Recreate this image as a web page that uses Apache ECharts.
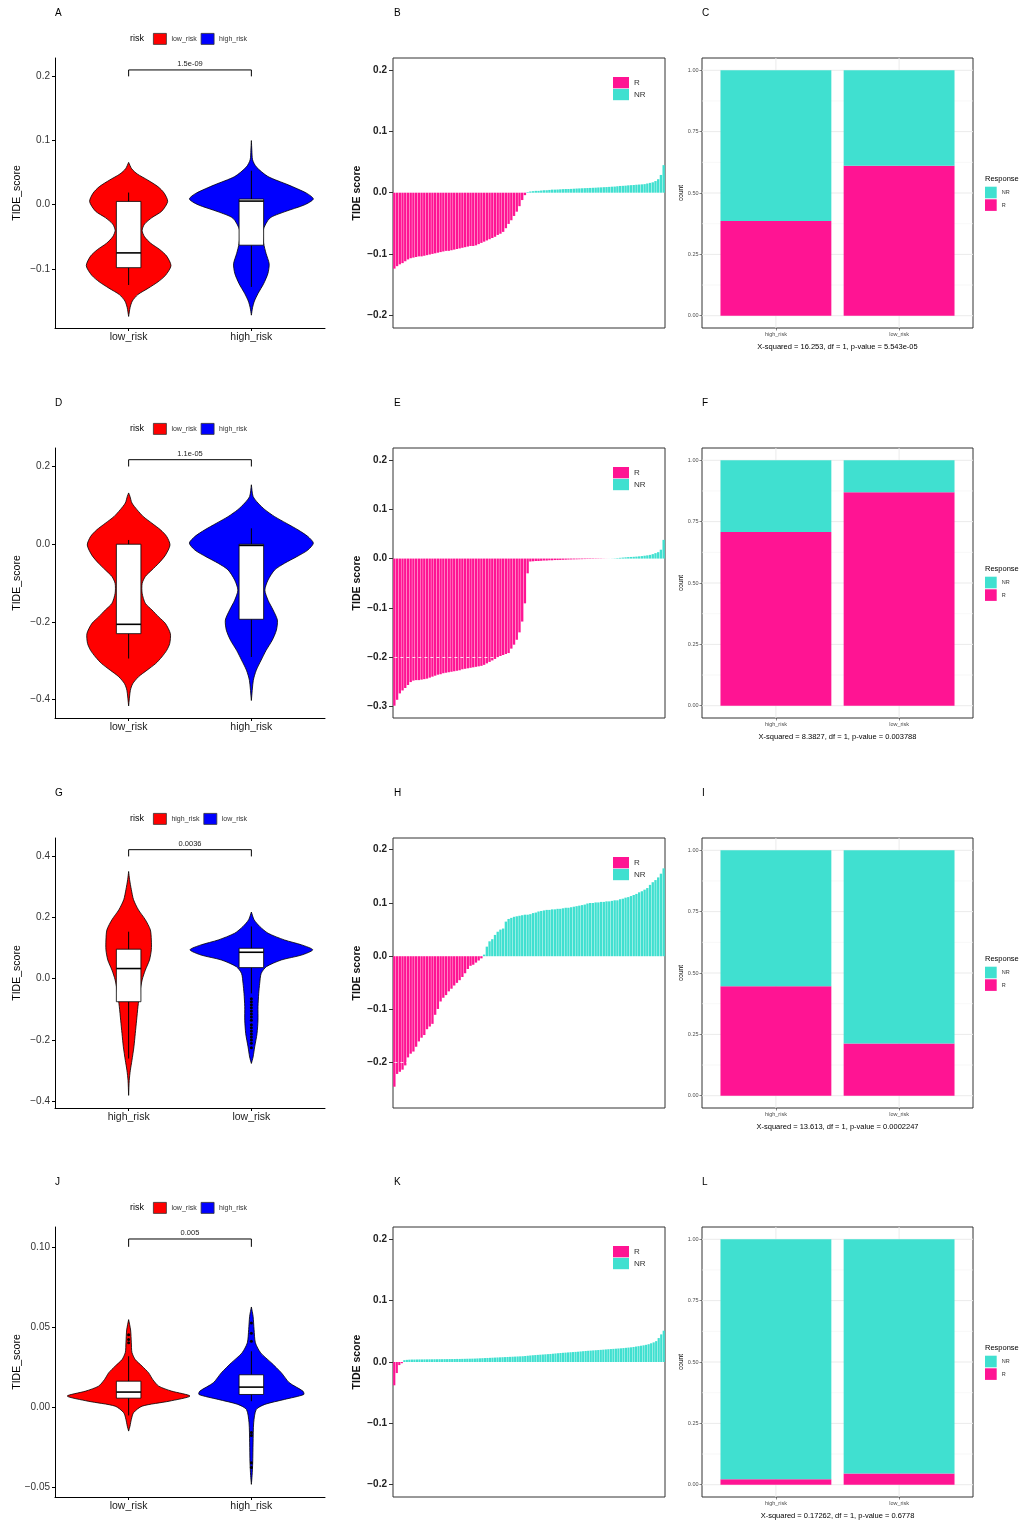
<!DOCTYPE html>
<html>
<head>
<meta charset="utf-8">
<script src="https://cdn.jsdelivr.net/npm/echarts@6/dist/echarts.min.js"></script>
<style>
  html, body { margin: 0; padding: 0; background: #fff; }
  #page { position: relative; width: 1031px; height: 1524px; overflow: hidden; background: #fff; }
  .panel { position: absolute; }
</style>
</head>
<body>
<div id="page"></div>
<script>
// ---------------- shared look ----------------
const FONT = '"Liberation Sans", Arial, Helvetica, sans-serif';
const RED = '#FF0000', BLUE = '#0000FF', PINK = '#FF1493', TURQ = '#40E0D0';
const ROW_TOP = [0, 390, 780, 1169];

// ---------------- violin panels (A, D, G, J) ----------------
// outlines: [TIDE score, half width in category units]
// boxes: [lower whisker, Q1, median, Q3, upper whisker]
const aCats = ['low_risk', 'high_risk'];
const aLowOutline = [[-0.174,0],[-0.16,0.012],[-0.15,0.03],[-0.14,0.075],[-0.13,0.16],[-0.12,0.24],[-0.11,0.30],[-0.095,0.345],[-0.08,0.31],[-0.07,0.255],[-0.06,0.18],[-0.05,0.13],[-0.04,0.11],[-0.03,0.13],[-0.02,0.19],[-0.01,0.27],[0.005,0.318],[0.018,0.29],[0.028,0.24],[0.0385,0.155],[0.048,0.07],[0.056,0.025],[0.066,0]];
const aHighOutline = [[-0.172,0],[-0.16,0.01],[-0.15,0.025],[-0.138,0.055],[-0.123,0.10],[-0.107,0.135],[-0.092,0.145],[-0.076,0.12],[-0.06,0.10],[-0.04,0.095],[-0.021,0.15],[-0.011,0.27],[0.0,0.435],[0.009,0.505],[0.018,0.45],[0.031,0.30],[0.044,0.135],[0.059,0.04],[0.07,0.01],[0.085,0.004],[0.1,0]];
const aLowBox = [-0.125, -0.098, -0.075, 0.0052, 0.019];
const aHighBox = [-0.128, -0.063, 0.0057, 0.0088, 0.053];
const aTicks = [-0.1, 0, 0.1, 0.2];
const aPValue = '1.5e-09';
const aBracket = [1, 2, 0.21, 0.2];

const dCats = ['low_risk', 'high_risk'];
const dLowOutline = [[-0.416,0],[-0.376,0.014],[-0.359,0.033],[-0.341,0.08],[-0.324,0.15],[-0.307,0.22],[-0.29,0.27],[-0.273,0.31],[-0.255,0.335],[-0.23,0.34],[-0.204,0.30],[-0.187,0.245],[-0.169,0.19],[-0.152,0.136],[-0.126,0.11],[-0.101,0.11],[-0.083,0.136],[-0.066,0.19],[-0.049,0.245],[-0.028,0.30],[-0.002,0.337],[0.02,0.31],[0.037,0.26],[0.054,0.19],[0.071,0.12],[0.089,0.068],[0.106,0.027],[0.123,0.011],[0.132,0]];
const dHighOutline = [[-0.402,0],[-0.35,0.016],[-0.324,0.04],[-0.298,0.08],[-0.273,0.12],[-0.247,0.17],[-0.221,0.204],[-0.195,0.212],[-0.169,0.177],[-0.144,0.136],[-0.118,0.11],[-0.092,0.136],[-0.066,0.19],[-0.049,0.27],[-0.032,0.37],[-0.015,0.46],[0.003,0.505],[0.02,0.46],[0.037,0.38],[0.054,0.285],[0.071,0.19],[0.089,0.11],[0.106,0.054],[0.123,0.014],[0.153,0]];
const dLowBox = [-0.294, -0.23, -0.206, 0.0, 0.011];
const dHighBox = [-0.29, -0.193, -0.003, 0.0, 0.041];
const dTicks = [-0.4, -0.2, 0, 0.2];
const dPValue = '1.1e-05';
const dBracket = [1, 2, 0.2175, 0.2];

const gCats = ['high_risk', 'low_risk'];
const gHighOutline = [[-0.38,0],[-0.331,0.005],[-0.298,0.014],[-0.266,0.027],[-0.222,0.043],[-0.179,0.054],[-0.135,0.065],[-0.091,0.076],[-0.048,0.09],[-0.004,0.11],[0.028,0.136],[0.061,0.17],[0.094,0.185],[0.126,0.185],[0.159,0.177],[0.192,0.136],[0.224,0.08],[0.257,0.04],[0.29,0.022],[0.322,0.008],[0.349,0]];
const gLowOutline = [[-0.276,0],[-0.255,0.014],[-0.222,0.027],[-0.179,0.046],[-0.135,0.054],[-0.091,0.054],[-0.048,0.06],[-0.015,0.068],[0.017,0.08],[0.039,0.122],[0.061,0.245],[0.077,0.41],[0.094,0.50],[0.110,0.41],[0.126,0.27],[0.148,0.136],[0.170,0.068],[0.192,0.022],[0.217,0]];
const gHighBox = [-0.26, -0.075, 0.033, 0.096, 0.153];
const gLowBox = [-0.048, 0.036, 0.086, 0.099, 0.17];
const gLowOutliers = [-0.065,-0.075,-0.085,-0.095,-0.105,-0.115,-0.125,-0.135,-0.15,-0.16,-0.17,-0.18,-0.19,-0.2,-0.21,-0.225];
const gTicks = [-0.4, -0.2, 0, 0.2, 0.4];
const gPValue = '0.0036';
const gBracket = [1, 2, 0.42, 0.398];

const jCats = ['low_risk', 'high_risk'];
const jLowOutline = [[-0.0152,0],[-0.0121,0.011],[-0.0079,0.022],[-0.0037,0.04],[0.0004,0.11],[0.0035,0.33],[0.0067,0.50],[0.0098,0.35],[0.0129,0.245],[0.0171,0.196],[0.0212,0.163],[0.0254,0.11],[0.0295,0.054],[0.034,0.027],[0.040,0.022],[0.048,0.016],[0.0545,0]];
const jHighOutline = [[-0.0485,0],[-0.043,0.006],[-0.035,0.011],[-0.0225,0.014],[-0.010,0.019],[-0.0017,0.04],[0.0015,0.11],[0.0046,0.27],[0.0077,0.427],[0.0098,0.42],[0.015,0.31],[0.0212,0.245],[0.0275,0.163],[0.0337,0.076],[0.040,0.033],[0.0483,0.022],[0.0566,0.014],[0.0624,0]];
const jLowBox = [-0.0054, 0.0054, 0.0092, 0.016, 0.0316];
const jHighBox = [0.0035, 0.0077, 0.0123, 0.020, 0.0347];
const jLowOutliers = [0.045, 0.042, 0.040];
const jHighOutliers = [0.0524, 0.046, 0.041, -0.016, -0.018, -0.035, -0.038];
const jTicks = [-0.05, 0, 0.05, 0.1];
const jPValue = '0.005';
const jBracket = [1, 2, 0.1049, 0.1];

// ---------------- waterfall panels (B, E, H, K), sorted TIDE scores ----------------
const bR = [-0.124,-0.120,-0.117,-0.115,-0.112,-0.109,-0.107,-0.106,-0.105,-0.104,-0.104,-0.103,-0.102,-0.101,-0.100,-0.099,-0.098,-0.097,-0.096,-0.095,-0.095,-0.094,-0.093,-0.092,-0.091,-0.090,-0.089,-0.088,-0.087,-0.087,-0.086,-0.084,-0.082,-0.080,-0.078,-0.076,-0.074,-0.072,-0.069,-0.067,-0.064,-0.058,-0.051,-0.045,-0.038,-0.031,-0.022,-0.012,-0.004];
const bNR = [0.001,0.002,0.0025,0.003,0.003,0.0035,0.004,0.004,0.0045,0.005,0.005,0.0052,0.0055,0.0058,0.006,0.006,0.0062,0.0065,0.0068,0.007,0.0072,0.0074,0.0076,0.0078,0.008,0.0082,0.0085,0.0087,0.009,0.0092,0.0095,0.0098,0.010,0.0105,0.011,0.0112,0.0115,0.012,0.0123,0.0126,0.013,0.0133,0.0136,0.014,0.015,0.016,0.017,0.019,0.022,0.029,0.045];

const eR = [-0.299,-0.287,-0.274,-0.268,-0.263,-0.257,-0.251,-0.248,-0.247,-0.247,-0.246,-0.245,-0.244,-0.242,-0.240,-0.238,-0.236,-0.235,-0.233,-0.232,-0.231,-0.230,-0.229,-0.228,-0.227,-0.225,-0.224,-0.223,-0.222,-0.221,-0.220,-0.219,-0.218,-0.216,-0.213,-0.210,-0.207,-0.204,-0.201,-0.198,-0.196,-0.194,-0.192,-0.183,-0.175,-0.165,-0.150,-0.128,-0.091,-0.030,-0.006,-0.0055,-0.005,-0.005,-0.0045,-0.004,-0.004,-0.0035,-0.0035,-0.003,-0.003,-0.0028,-0.0025,-0.0023,-0.002,-0.0018,-0.0016,-0.0015,-0.0013,-0.0012,-0.001,-0.0009,-0.0008,-0.0007,-0.0006,-0.0005,-0.0004,-0.0002,-0.0001];
const eNR = [0.0001,0.0002,0.0005,0.001,0.0015,0.002,0.0025,0.003,0.0033,0.0036,0.004,0.0045,0.005,0.0058,0.0065,0.0075,0.009,0.011,0.013,0.018,0.038];

const hR = [-0.245,-0.221,-0.217,-0.213,-0.205,-0.190,-0.183,-0.179,-0.170,-0.160,-0.153,-0.148,-0.137,-0.132,-0.127,-0.110,-0.099,-0.085,-0.078,-0.073,-0.066,-0.061,-0.055,-0.050,-0.045,-0.039,-0.032,-0.024,-0.018,-0.016,-0.012,-0.008,-0.004];
const hNR = [0.003,0.018,0.028,0.032,0.040,0.046,0.050,0.052,0.065,0.070,0.072,0.074,0.075,0.076,0.077,0.078,0.078,0.079,0.081,0.082,0.084,0.085,0.086,0.087,0.087,0.088,0.088,0.089,0.089,0.090,0.091,0.091,0.092,0.093,0.094,0.095,0.096,0.097,0.099,0.100,0.100,0.101,0.101,0.102,0.102,0.103,0.103,0.104,0.105,0.105,0.107,0.108,0.110,0.111,0.113,0.115,0.117,0.120,0.122,0.125,0.128,0.134,0.139,0.143,0.148,0.155,0.165];

const kR = [-0.038,-0.018,-0.005,-0.002];
const kNR = [0.0030,0.0035,0.0038,0.0040,0.0040,0.0041,0.0042,0.0042,0.0043,0.0043,0.0044,0.0044,0.0045,0.0045,0.0046,0.0046,0.0047,0.0047,0.0048,0.0048,0.0049,0.0050,0.0050,0.0051,0.0052,0.0053,0.0054,0.0055,0.0056,0.0058,
  0.0060,0.0062,0.0064,0.0066,0.0068,0.0070,0.0072,0.0074,0.0076,0.0078,0.0080,0.0082,0.0084,0.0086,0.0088,0.0090,0.0092,0.0094,
  0.0098,0.0102,0.0106,0.0110,0.0113,0.0116,0.0119,0.0122,0.0125,0.0128,0.0131,
  0.0135,0.0139,0.0143,0.0147,0.0150,0.0153,0.0156,0.0159,0.0162,0.0165,0.0168,0.0172,
  0.0176,0.0180,0.0183,0.0186,0.0189,0.0192,0.0195,0.0198,0.0201,
  0.0205,0.0208,0.0211,0.0214,0.0217,0.0220,0.0223,
  0.0227,0.0231,0.0235,0.0239,0.0245,0.0252,0.0258,0.0265,0.0272,0.0280,0.0290,0.0305,0.0320,0.0340,0.0390,0.0450,0.0510];

const wfTicks = [-0.2, -0.1, 0, 0.1, 0.2];
const eTicks = [-0.3, -0.2, -0.1, 0, 0.1, 0.2];

// ---------------- response proportion panels (C, F, I, L) ----------------
const stackCats = ['high_risk', 'low_risk'];
const cRFrac = [0.386, 0.611];
const fRFrac = [0.708, 0.870];
const iRFrac = [0.446, 0.213];
const lRFrac = [0.022, 0.046];
const cCaption = 'X-squared = 16.253, df = 1, p-value = 5.543e-05';
const fCaption = 'X-squared = 8.3827, df = 1, p-value = 0.003788';
const iCaption = 'X-squared = 13.613, df = 1, p-value = 0.0002247';
const lCaption = 'X-squared = 0.17262, df = 1, p-value = 0.6778';
const propTicks = [0, 0.25, 0.5, 0.75, 1];
const propMinor = [0.125, 0.375, 0.625, 0.875];

// ---------------- helpers ----------------
const page = document.getElementById('page');
function makeChart(left, top, width, height) {
  const d = document.createElement('div');
  d.className = 'panel';
  d.style.left = left + 'px'; d.style.top = top + 'px';
  d.style.width = width + 'px'; d.style.height = height + 'px';
  page.appendChild(d);
  return echarts.init(d, null, { renderer: 'canvas', width: width, height: height });
}
function fmt(v, dec) {
  return (v < 0 ? '\u2212' : '') + Math.abs(v).toFixed(dec);
}
function panelTitle(text, left) {
  return { text: text, left: left, top: 8, padding: 0,
    textStyle: { fontSize: 10, fontWeight: 'normal', color: '#000', fontFamily: FONT } };
}

function violinSeries(name, color, x, outline, box, outliers) {
  return {
    type: 'custom', name: name, coordinateSystem: 'cartesian2d',
    itemStyle: { color: color }, silent: true,
    data: [[x, box[2]]], encode: { x: 0, y: 1 },
    renderItem: function (params, api) {
      const right = outline.map(p => api.coord([x + p[1], p[0]]));
      const left = outline.slice().reverse().map(p => api.coord([x - p[1], p[0]]));
      const pts = right.concat(left);
      const lo = api.coord([x, box[0]]), hi = api.coord([x, box[4]]);
      const b1 = api.coord([x - 0.1, box[3]]), b2 = api.coord([x + 0.1, box[1]]);
      const m1 = api.coord([x - 0.1, box[2]]), m2 = api.coord([x + 0.1, box[2]]);
      const children = [
        { type: 'polygon', shape: { points: pts, smooth: 0.25 },
          style: { fill: color, stroke: '#000', lineWidth: 0.8 } },
        { type: 'line', shape: { x1: lo[0], y1: lo[1], x2: hi[0], y2: hi[1] },
          style: { stroke: '#000', lineWidth: 1 } },
        { type: 'rect', shape: { x: b1[0], y: b1[1], width: b2[0] - b1[0], height: b2[1] - b1[1] },
          style: { fill: '#fff', stroke: '#000', lineWidth: 0.8 } },
        { type: 'line', shape: { x1: m1[0], y1: m1[1], x2: m2[0], y2: m2[1] },
          style: { stroke: '#000', lineWidth: 1.6 } }
      ];
      (outliers || []).forEach(v => {
        const c = api.coord([x, v]);
        children.push({ type: 'circle', shape: { cx: c[0], cy: c[1], r: 1.5 }, style: { fill: '#000' } });
      });
      return { type: 'group', children: children };
    }
  };
}

function bracketSeries(bracket, label) {
  return {
    type: 'custom', coordinateSystem: 'cartesian2d', silent: true,
    data: [bracket], encode: { x: [0, 1], y: [2, 3] },
    renderItem: function (params, api) {
      const x1 = api.value(0), x2 = api.value(1), top = api.value(2), bot = api.value(3);
      const p1 = api.coord([x1, bot]), p2 = api.coord([x1, top]);
      const p3 = api.coord([x2, top]), p4 = api.coord([x2, bot]);
      return { type: 'group', children: [
        { type: 'polyline', shape: { points: [p1, p2, p3, p4] },
          style: { stroke: '#000', lineWidth: 1, fill: null } },
        { type: 'text', x: (p2[0] + p3[0]) / 2, y: p2[1] - 2,
          style: { text: label, fill: '#222', fontSize: 7.5, fontFamily: FONT,
                   align: 'center', verticalAlign: 'bottom' } }
      ] };
    }
  };
}

function violinPanel(p) {
  const chart = makeChart(0, p.top, 340, 390);
  chart.setOption({
    animation: false,
    textStyle: { fontFamily: FONT },
    title: [panelTitle(p.label, 55),
      { text: 'risk', left: 130, top: 34, padding: 0,
        textStyle: { fontSize: 9, fontWeight: 'normal', color: '#000', fontFamily: FONT } }],
    legend: { data: p.cats, left: 153, top: 33, padding: 0, icon: 'rect',
      itemWidth: 13, itemHeight: 11, itemGap: 4, selectedMode: false,
      itemStyle: { borderColor: '#333', borderWidth: 0.8 },
      textStyle: { fontSize: 7, color: '#333', fontFamily: FONT } },
    grid: { left: 55, top: 58, width: 270, height: 270, outerBoundsMode: 'none', containLabel: false },
    xAxis: { type: 'value', min: 0.4, max: 2.6,
      axisLine: { onZero: false, lineStyle: { color: '#000', width: 1 } },
      axisTick: { customValues: [1, 2], length: 3, lineStyle: { color: '#000' } },
      axisLabel: { customValues: [1, 2], formatter: v => p.cats[Math.round(v) - 1],
        fontSize: 10.5, color: '#1a1a1a', margin: 4, fontFamily: FONT },
      splitLine: { show: false } },
    yAxis: { type: 'value', min: p.yMin, max: p.yMax,
      name: 'TIDE_score', nameLocation: 'middle', nameGap: 32, nameMoveOverlap: false,
      nameTextStyle: { fontSize: 10.5, color: '#000', fontFamily: FONT },
      axisLine: { show: true, onZero: false, lineStyle: { color: '#000', width: 1 } },
      axisTick: { show: true, customValues: p.ticks, length: 3, lineStyle: { color: '#000' } },
      axisLabel: { customValues: p.ticks, formatter: v => fmt(v, p.dec),
        fontSize: 10, color: '#333', margin: 5, fontFamily: FONT },
      splitLine: { show: false } },
    series: [
      violinSeries(p.cats[0], RED, 1, p.outlines[0], p.boxes[0], p.outliers[0]),
      violinSeries(p.cats[1], BLUE, 2, p.outlines[1], p.boxes[1], p.outliers[1]),
      bracketSeries(p.bracket, p.pValue)
    ]
  });
}

function waterfallPanel(p) {
  const chart = makeChart(340, p.top, 340, 390);
  const n = p.rVals.length + p.nrVals.length;
  const idx = Array.from({ length: n }, (_, i) => String(i + 1));
  const rData = p.rVals.concat(p.nrVals.map(() => null));
  const nrData = p.rVals.map(() => null).concat(p.nrVals);
  chart.setOption({
    animation: false,
    textStyle: { fontFamily: FONT },
    title: [panelTitle(p.label, 54)],
    legend: { data: ['R', 'NR'], orient: 'vertical', left: 273, top: 77, padding: 0,
      icon: 'rect', itemWidth: 16, itemHeight: 11.3, itemGap: 0.6, selectedMode: false,
      textStyle: { fontSize: 8, color: '#333', fontFamily: FONT } },
    grid: { left: 53, top: 58, width: 272, height: 270, show: true, outerBoundsMode: 'none',
      containLabel: false, borderColor: '#333', borderWidth: 1, backgroundColor: '#fff' },
    xAxis: { type: 'category', data: idx, boundaryGap: true,
      axisLine: { show: false }, axisTick: { show: false }, axisLabel: { show: false },
      splitLine: { show: false } },
    yAxis: { type: 'value', min: p.yMin, max: p.yMax,
      name: 'TIDE score', nameLocation: 'middle', nameGap: 30, nameMoveOverlap: false,
      nameTextStyle: { fontSize: 10.5, fontWeight: 'bold', color: '#111', fontFamily: FONT },
      axisLine: { show: false, onZero: false },
      axisTick: { show: true, customValues: p.ticks, length: 4, lineStyle: { color: '#333' } },
      axisLabel: { customValues: p.ticks, formatter: v => fmt(v, 1), fontSize: 10,
        fontWeight: 'bold', color: '#222', margin: 6, fontFamily: FONT },
      splitLine: { show: false } },
    series: [
      { type: 'bar', name: 'R', data: rData, itemStyle: { color: PINK },
        barGap: '-100%', barCategoryGap: '14%', silent: true,
        markLine: { silent: true, symbol: 'none', animation: false, label: { show: false },
          lineStyle: { color: '#fff', type: [3, 3], width: 0.8 },
          data: [[{ xAxis: 0, yAxis: -0.2 }, { xAxis: n - 1, yAxis: -0.2 }]] } },
      { type: 'bar', name: 'NR', data: nrData, itemStyle: { color: TURQ },
        barGap: '-100%', barCategoryGap: '14%', silent: true }
    ]
  });
}

function gridLineSeries(values, color, width) {
  return {
    type: 'custom', coordinateSystem: 'cartesian2d', silent: true, z: 0,
    data: values.map(v => [v]), encode: { y: 0 },
    renderItem: function (params, api) {
      const cs = params.coordSys;
      const y = api.coord([1, api.value(0)])[1];
      return { type: 'line', shape: { x1: cs.x, y1: y, x2: cs.x + cs.width, y2: y },
        style: { stroke: color, lineWidth: width } };
    }
  };
}
function vGridSeries(values, color, width) {
  return {
    type: 'custom', coordinateSystem: 'cartesian2d', silent: true, z: 0,
    data: values.map(v => [v]), encode: { x: 0 },
    renderItem: function (params, api) {
      const cs = params.coordSys;
      const x = api.coord([api.value(0), 0])[0];
      return { type: 'line', shape: { x1: x, y1: cs.y, x2: x, y2: cs.y + cs.height },
        style: { stroke: color, lineWidth: width } };
    }
  };
}
function stackSeries(name, color, data) {
  return {
    type: 'custom', name: name, coordinateSystem: 'cartesian2d', silent: true, z: 2,
    itemStyle: { color: color }, data: data, encode: { x: 0, y: [1, 2] },
    renderItem: function (params, api) {
      const x = api.value(0), y0 = api.value(1), y1 = api.value(2);
      const a = api.coord([x - 0.45, y1]), b = api.coord([x + 0.45, y0]);
      return { type: 'rect', shape: { x: a[0], y: a[1], width: b[0] - a[0], height: b[1] - a[1] },
        style: { fill: color } };
    }
  };
}

function proportionPanel(p) {
  const chart = makeChart(668, p.top, 363, 390);
  const rData = p.rFrac.map((f, i) => [i + 1, 0, f]);
  const nrData = p.rFrac.map((f, i) => [i + 1, f, 1]);
  chart.setOption({
    animation: false,
    textStyle: { fontFamily: FONT },
    title: [panelTitle(p.label, 34),
      { text: 'Response', left: 317, top: 174.5, padding: 0,
        textStyle: { fontSize: 7.5, fontWeight: 'normal', color: '#000', fontFamily: FONT } }],
    legend: { data: ['NR', 'R'], orient: 'vertical', left: 317, top: 186.7, padding: 0,
      icon: 'rect', itemWidth: 11.7, itemHeight: 11.6, itemGap: 1, selectedMode: false,
      textStyle: { fontSize: 5.5, color: '#333', fontFamily: FONT } },
    grid: { left: 34, top: 58, width: 271, height: 270, show: true, outerBoundsMode: 'none',
      containLabel: false, borderColor: '#333', borderWidth: 1, backgroundColor: '#fff' },
    xAxis: { type: 'value', min: 0.4, max: 2.6,
      name: p.caption, nameLocation: 'middle', nameGap: 15, nameMoveOverlap: false,
      nameTextStyle: { fontSize: 7.5, color: '#000', fontFamily: FONT },
      axisLine: { show: false, onZero: false },
      axisTick: { show: true, customValues: [1, 2], length: 2.5, lineStyle: { color: '#333', width: 0.6 } },
      axisLabel: { customValues: [1, 2], formatter: v => stackCats[Math.round(v) - 1],
        fontSize: 5.5, color: '#4D4D4D', margin: 3.5, fontFamily: FONT },
      splitLine: { show: false } },
    yAxis: { type: 'value', min: -0.05, max: 1.05,
      name: 'count', nameLocation: 'middle', nameGap: 17.5, nameMoveOverlap: false,
      nameTextStyle: { fontSize: 6.5, color: '#000', fontFamily: FONT },
      axisLine: { show: false, onZero: false },
      axisTick: { show: true, customValues: propTicks, length: 2.5, lineStyle: { color: '#333', width: 0.6 } },
      axisLabel: { customValues: propTicks, formatter: v => v.toFixed(2),
        fontSize: 5.5, color: '#4D4D4D', margin: 3.5, fontFamily: FONT },
      splitLine: { show: false } },
    series: [
      gridLineSeries(propMinor, '#F4F4F4', 0.6),
      gridLineSeries(propTicks, '#EBEBEB', 1),
      vGridSeries([1, 2], '#EBEBEB', 1),
      stackSeries('R', PINK, rData),
      stackSeries('NR', TURQ, nrData)
    ]
  });
}

// ---------------- build the twelve panels ----------------
violinPanel({ label: 'A', top: ROW_TOP[0], cats: aCats, outlines: [aLowOutline, aHighOutline],
  boxes: [aLowBox, aHighBox], outliers: [[], []], ticks: aTicks, dec: 1,
  yMin: -0.192, yMax: 0.2286, bracket: aBracket, pValue: aPValue });
violinPanel({ label: 'D', top: ROW_TOP[1], cats: dCats, outlines: [dLowOutline, dHighOutline],
  boxes: [dLowBox, dHighBox], outliers: [[], []], ticks: dTicks, dec: 1,
  yMin: -0.447, yMax: 0.2476, bracket: dBracket, pValue: dPValue });
violinPanel({ label: 'G', top: ROW_TOP[2], cats: gCats, outlines: [gHighOutline, gLowOutline],
  boxes: [gHighBox, gLowBox], outliers: [[], gLowOutliers], ticks: gTicks, dec: 1,
  yMin: -0.421, yMax: 0.458, bracket: gBracket, pValue: gPValue });
violinPanel({ label: 'J', top: ROW_TOP[3], cats: jCats, outlines: [jLowOutline, jHighOutline],
  boxes: [jLowBox, jHighBox], outliers: [jLowOutliers, jHighOutliers], ticks: jTicks, dec: 2,
  yMin: -0.0564, yMax: 0.1124, bracket: jBracket, pValue: jPValue });

waterfallPanel({ label: 'B', top: ROW_TOP[0], rVals: bR, nrVals: bNR, yMin: -0.221, yMax: 0.22, ticks: wfTicks });
waterfallPanel({ label: 'E', top: ROW_TOP[1], rVals: eR, nrVals: eNR, yMin: -0.324, yMax: 0.2247, ticks: eTicks });
waterfallPanel({ label: 'H', top: ROW_TOP[2], rVals: hR, nrVals: hNR, yMin: -0.285, yMax: 0.222, ticks: wfTicks });
waterfallPanel({ label: 'K', top: ROW_TOP[3], rVals: kR, nrVals: kNR, yMin: -0.22, yMax: 0.22, ticks: wfTicks });

proportionPanel({ label: 'C', top: ROW_TOP[0], rFrac: cRFrac, caption: cCaption });
proportionPanel({ label: 'F', top: ROW_TOP[1], rFrac: fRFrac, caption: fCaption });
proportionPanel({ label: 'I', top: ROW_TOP[2], rFrac: iRFrac, caption: iCaption });
proportionPanel({ label: 'L', top: ROW_TOP[3], rFrac: lRFrac, caption: lCaption });
</script>
</body>
</html>
